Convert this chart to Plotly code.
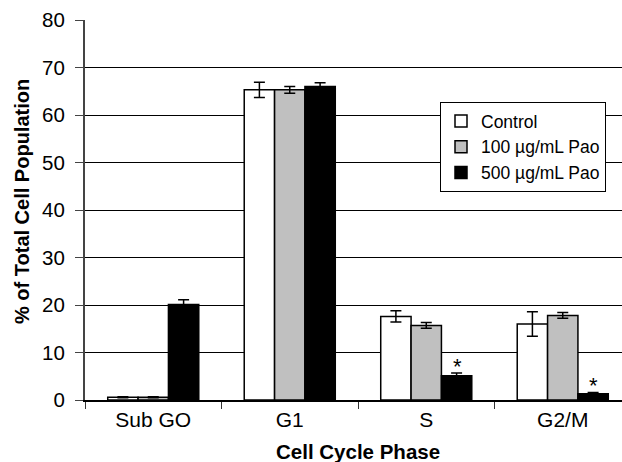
import plotly.graph_objects as go

categories = ["Sub GO", "G1", "S", "G2/M"]
control = [0.6, 65.3, 17.6, 16.0]
control_err = [0.1, 1.6, 1.2, 2.6]
pao100 = [0.6, 65.3, 15.7, 17.8]
pao100_err = [0.1, 0.7, 0.6, 0.6]
pao500 = [20.1, 66.0, 5.1, 1.3]
pao500_err = [1.0, 0.8, 0.6, 0.3]
star_categories = ["S", "G2/M"]
y_ticks = [0, 10, 20, 30, 40, 50, 60, 70, 80]

FONT = "Liberation Sans, Arial, sans-serif"

def err(vals):
    return dict(type="data", array=vals, visible=True, color="black", thickness=1.5, width=5.5)

fig = go.Figure()
fig.add_trace(go.Bar(name="Control", x=categories, y=control, error_y=err(control_err),
                     marker=dict(color="white", line=dict(color="black", width=1.5))))
fig.add_trace(go.Bar(name="100 µg/mL Pao", x=categories, y=pao100, error_y=err(pao100_err),
                     marker=dict(color="#c0c0c0", line=dict(color="black", width=1.5))))
fig.add_trace(go.Bar(name="500 µg/mL Pao", x=categories, y=pao500, error_y=err(pao500_err),
                     marker=dict(color="black", line=dict(color="black", width=1.5))))

for c in star_categories:
    i = categories.index(c)
    fig.add_annotation(x=c, y=pao500[i] + pao500_err[i], xref="x", yref="y", text="*",
                       showarrow=False, yanchor="bottom", xshift=31, yshift=-8,
                       font=dict(family=FONT, size=22, color="black"))

fig.add_annotation(x=(357.5 - 85) / 537, y=(400 - 451) / 380, xref="paper", yref="paper",
                   xanchor="center", yanchor="middle",
                   text="<b>Cell Cycle Phase</b>", showarrow=False,
                   font=dict(family=FONT, size=20.5, color="black"))
fig.add_annotation(x=(22 - 85) / 537, y=(400 - 202) / 380, xref="paper", yref="paper",
                   xanchor="center", yanchor="middle", textangle=-90,
                   text="<b>% of Total Cell Population</b>", showarrow=False,
                   font=dict(family=FONT, size=20, color="black"))

fig.update_layout(
    width=622, height=462,
    margin=dict(l=85, r=0, t=20, b=62),
    paper_bgcolor="white", plot_bgcolor="white",
    barmode="group", bargap=0.333, bargroupgap=0,
    font=dict(family=FONT, size=20, color="black"),
    legend=dict(x=(440 - 85) / 537, y=(400 - 102) / 380, xanchor="left", yanchor="top",
                bgcolor="white", bordercolor="black", borderwidth=1,
                font=dict(family=FONT, size=17.5, color="black"),
                itemwidth=30, tracegroupgap=0),
    xaxis=dict(range=[-0.5, 3.434], showline=True, linecolor="black", linewidth=1.5,
               ticks="outside", tickson="boundaries", ticklen=7, tickcolor="#333",
               tickfont=dict(family=FONT, size=21), showgrid=False),
    yaxis=dict(range=[0, 80], tickvals=y_ticks, showline=True, linecolor="#444", linewidth=2,
               ticks="outside", ticklen=8, tickcolor="#444", showgrid=True,
               gridcolor="black", gridwidth=1, zeroline=False, ticklabelstandoff=6,
               tickfont=dict(family=FONT, size=20.5)),
)

fig.write_html("out.html", config={"displayModeBar": False},
               post_script="document.body.style.margin='0';document.body.style.overflow='hidden';")
